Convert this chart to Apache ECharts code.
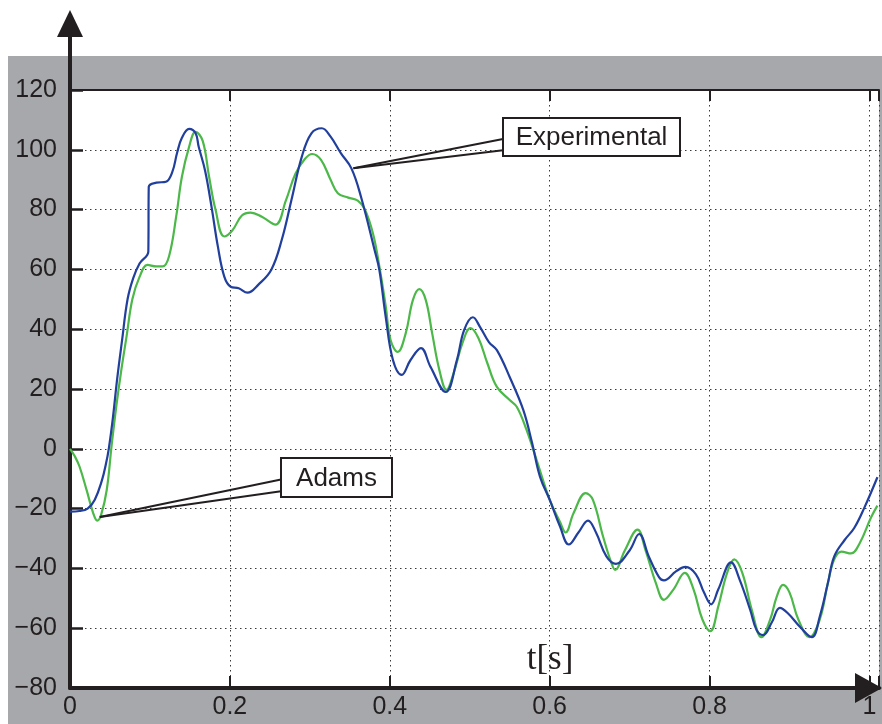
<!DOCTYPE html>
<html>
<head>
<meta charset="utf-8">
<title>Experimental vs Adams</title>
<script src="https://cdn.jsdelivr.net/npm/echarts@6/dist/echarts.min.js"></script>
<style>
  html, body { margin: 0; padding: 0; background: #fff; }
  #main { width: 882px; height: 724px; }
</style>
</head>
<body>
<div id="main"></div>
<script>
// measured curves, t in seconds
const tExp = [0, 0.012, 0.022, 0.031, 0.04, 0.045, 0.0485, 0.0535, 0.059, 0.065, 0.072, 0.079, 0.087, 0.098, 0.0985,
  0.108, 0.12, 0.128, 0.134, 0.14, 0.149, 0.157, 0.161, 0.169, 0.177, 0.185, 0.193, 0.201, 0.211, 0.222,
  0.236, 0.252, 0.265, 0.277, 0.29, 0.302, 0.315, 0.326, 0.339, 0.352, 0.364, 0.381, 0.387, 0.395, 0.404,
  0.415, 0.426, 0.439, 0.451, 0.47, 0.484, 0.493, 0.504, 0.513, 0.524, 0.534, 0.55, 0.567, 0.578, 0.588,
  0.6, 0.613, 0.624, 0.636, 0.648, 0.658, 0.671, 0.683, 0.7, 0.712, 0.724, 0.737, 0.743, 0.758, 0.77,
  0.783, 0.793, 0.802, 0.811, 0.827, 0.838, 0.851, 0.859, 0.867, 0.878, 0.888, 0.898, 0.913, 0.928, 0.938,
  0.948, 0.956, 0.969, 0.981, 0.994, 1.01]
const yExp = [-21, -20.8, -20, -17, -10.5, -5, 0, 10, 23.4, 36, 50, 57, 62, 66, 87.6,
  89, 89.3, 92.6, 99, 104, 107, 105.6, 101, 93, 81, 67.6, 57.6, 54.2, 53.7, 52.2,
  55, 60, 70, 83.2, 97.7, 105.5, 107.2, 104.4, 98.8, 93.8, 84.3, 66.5, 59.8, 44, 29.7,
  24.7, 29.7, 33.7, 27.4, 19, 29.7, 39.7, 44, 40.7, 35.7, 33, 24, 13, 2, -9.4,
  -17, -26, -32, -28, -24, -28, -36, -38.5, -34, -28.5, -36, -43, -44, -41, -39.5,
  -42, -48, -52, -47, -38, -44, -54, -60.7, -62.3, -58, -53.2, -55, -59.5, -63, -56,
  -45, -36, -30.5, -26.5, -19.5, -9.5]

const tAdams = [0, 0.006, 0.012, 0.021, 0.029, 0.034, 0.039, 0.046, 0.052, 0.058, 0.064, 0.071, 0.078, 0.087, 0.097,
  0.108, 0.116, 0.124, 0.133, 0.14, 0.149, 0.157, 0.166, 0.174, 0.182, 0.193, 0.203, 0.215, 0.226, 0.24,
  0.257, 0.27, 0.282, 0.294, 0.303, 0.314, 0.326, 0.335, 0.348, 0.36, 0.369, 0.379, 0.387, 0.395, 0.401,
  0.41, 0.42, 0.429, 0.437, 0.445, 0.453, 0.462, 0.471, 0.48, 0.491, 0.501, 0.511, 0.522, 0.534, 0.55,
  0.559, 0.571, 0.584, 0.6, 0.613, 0.62, 0.63, 0.645, 0.654, 0.667, 0.677, 0.682, 0.694, 0.71, 0.72,
  0.733, 0.743, 0.755, 0.769, 0.78, 0.791, 0.801, 0.811, 0.822, 0.831, 0.841, 0.853, 0.865, 0.876, 0.884,
  0.892, 0.9, 0.911, 0.925, 0.938, 0.948, 0.956, 0.965, 0.977, 0.988, 1.002, 1.01]
const yAdams = [0, -2.5, -6, -14, -21.5, -24, -22, -13.7, 1, 14.4, 26, 38, 50, 57.5, 61.5,
  61, 61, 64.5, 78, 91, 101, 106, 103, 91, 80, 71, 73, 78, 79, 77.6,
  75, 83, 92, 97, 98.6, 96.6, 90, 85.5, 84, 83, 80, 72, 61, 47.6, 36.4,
  32.4, 38.7, 49.8, 53.4, 49.8, 38.7, 26.4, 19.7, 25.4, 35.4, 40.4, 37, 28.7, 20.7, 16.3,
  14, 6.4, -4, -17, -24.5, -28, -21.5, -14.8, -17, -29.5, -38, -40.5, -34, -27, -34,
  -45, -50.5, -47, -41.5, -47, -57, -61, -52.7, -41.5, -37, -41.5, -54, -63, -57, -49.5,
  -45.5, -48, -57, -63, -57, -45, -37, -34.4, -35, -31.5, -23, -19]

const xTicks = [0, 0.2, 0.4, 0.6, 0.8, 1]
const yTicks = [-80, -60, -40, -20, 0, 20, 40, 60, 80, 100, 120]

const ink = '#231f20'
const font = 'Liberation Sans'

const chart = echarts.init(document.getElementById('main'))

const gridDots = { color: '#3a3a3a', width: 1, type: [1.5, 3.5] }

function fmtX(v) {
  const hit = xTicks.find(t => Math.abs(t - v) < 1e-6)
  return hit === undefined ? '' : String(hit)
}
function fmtY(v) {
  const hit = yTicks.find(t => Math.abs(t - v) < 1e-6)
  if (hit === undefined) return ''
  return hit < 0 ? '\u2212' + Math.abs(hit) : String(hit)
}

// x range runs a touch past 1 so the end tick falls off the canvas
const xMax = 1.012

chart.setOption({
  animation: false,
  backgroundColor: '#a7a8ab',
  grid: {
    left: 70, top: 90, right: -2, bottom: 36,
    show: true, backgroundColor: '#fff', borderWidth: 0
  },
  xAxis: [{
    type: 'value', min: 0, max: xMax, interval: 0.2, position: 'bottom',
    axisLine: { show: true, onZero: false, lineStyle: { color: ink, width: 4 } },
    axisTick: { show: true, inside: true, length: 12, lineStyle: { color: ink, width: 2 } },
    axisLabel: { margin: 7, color: ink, fontSize: 25, fontFamily: font, formatter: fmtX },
    splitLine: { show: true, lineStyle: gridDots }
  }, {
    type: 'value', min: 0, max: xMax, interval: 0.2, position: 'top',
    axisLine: { show: true, onZero: false, lineStyle: { color: ink, width: 2 } },
    axisTick: { show: true, inside: true, length: 11, lineStyle: { color: ink, width: 2 } },
    axisLabel: { show: false },
    splitLine: { show: false }
  }],
  yAxis: {
    type: 'value', min: -80, max: 120, interval: 20,
    axisLine: { show: true, onZero: false, lineStyle: { color: ink, width: 4 } },
    axisTick: { show: true, inside: true, length: 13, lineStyle: { color: ink, width: 2.5 } },
    axisLabel: { margin: 13, color: ink, fontSize: 25, fontFamily: font, formatter: fmtY },
    splitLine: { show: true, lineStyle: gridDots }
  },
  series: [{
    name: 'Adams',
    type: 'line',
    data: tAdams.map((t, i) => [t, yAdams[i]]),
    showSymbol: false,
    smooth: 0.4,
    lineStyle: { color: '#4cb849', width: 2.2 },
    z: 3
  }, {
    name: 'Experimental',
    type: 'line',
    data: tExp.map((t, i) => [t, yExp[i]]),
    showSymbol: false,
    smooth: 0.4,
    lineStyle: { color: '#213f9c', width: 2.2 },
    z: 4
  }]
})

// callouts point at a spot on each curve
const expTip = chart.convertToPixel({ xAxisIndex: 0, yAxisIndex: 0 }, [0.3545, 93.8])
const adamsTip = chart.convertToPixel({ xAxisIndex: 0, yAxisIndex: 0 }, [0.0373, -22.8])

function callout(label, box, tip) {
  return [
    { type: 'line', z: 20, shape: { x1: box.x, y1: box.y + box.h * 0.55, x2: tip[0], y2: tip[1] },
      style: { stroke: ink, lineWidth: 2 } },
    { type: 'line', z: 20, shape: { x1: box.x, y1: box.y + box.h * 0.85, x2: tip[0], y2: tip[1] },
      style: { stroke: ink, lineWidth: 2 } },
    { type: 'rect', z: 21, shape: { x: box.x, y: box.y, width: box.w, height: box.h },
      style: { fill: '#fff', stroke: ink, lineWidth: 2 } },
    { type: 'text', z: 22, style: {
      text: label, x: box.x + box.w / 2, y: box.y + box.h / 2 + 1,
      font: '26px "Liberation Sans"', fill: ink,
      align: 'center', verticalAlign: 'middle', textAlign: 'center', textVerticalAlign: 'middle'
    } }
  ]
}

chart.setOption({
  graphic: [
    { type: 'rect', z: -10, silent: true, shape: { x: 0, y: 0, width: 882, height: 56 }, style: { fill: '#fff' } },
    { type: 'rect', z: -10, silent: true, shape: { x: 0, y: 0, width: 8, height: 724 }, style: { fill: '#fff' } },
    // axis arrows
    { type: 'line', z: 10, shape: { x1: 70, y1: 92, x2: 70, y2: 30 }, style: { stroke: ink, lineWidth: 4 } },
    { type: 'polygon', z: 10, shape: { points: [[57, 37], [83, 37], [70, 10]] }, style: { fill: ink } },
    { type: 'polygon', z: 10, shape: { points: [[855, 673], [855, 703], [882, 688]] }, style: { fill: ink } },
    { type: 'text', z: 10, style: {
      text: 't[s]', x: 550, y: 660, font: '35px "Liberation Serif"', fill: ink,
      align: 'center', verticalAlign: 'middle', textAlign: 'center', textVerticalAlign: 'middle'
    } },
    ...callout('Experimental', { x: 503, y: 118, w: 177, h: 38 }, expTip),
    ...callout('Adams', { x: 281, y: 458, w: 111, h: 39 }, adamsTip)
  ]
})
</script>
</body>
</html>
